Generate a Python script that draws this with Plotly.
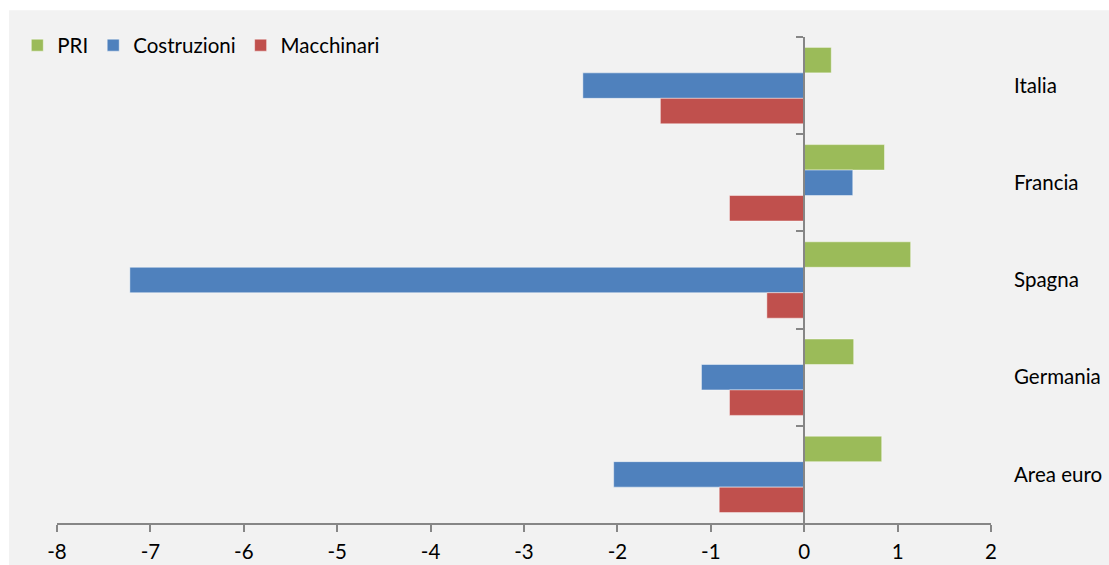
import plotly.graph_objects as go

# ===== DATA =====
paesi = ["Italia", "Francia", "Spagna", "Germania", "Area euro"]
pri = [0.29, 0.86, 1.14, 0.53, 0.83]
costruzioni = [-2.37, 0.52, -7.22, -1.10, -2.04]
macchinari = [-1.54, -0.80, -0.40, -0.80, -0.91]
x_ticks = [-8, -7, -6, -5, -4, -3, -2, -1, 0, 1, 2]
x_tick_labels = [str(v) for v in x_ticks]  # plain hyphen, like the original

serie = [
    ("PRI", pri, "#9BBB59"),
    ("Costruzioni", costruzioni, "#4F81BD"),
    ("Macchinari", macchinari, "#C0504D"),
]

FONT = "Lato, 'Open Sans', sans-serif"
AXIS_GREY = "#868686"

fig = go.Figure()

for nome, valori, colore in serie:
    fig.add_trace(go.Bar(
        name=nome,
        x=valori,
        y=paesi,
        orientation="h",
        marker=dict(color=colore, line=dict(color="rgba(255,255,255,0.45)", width=1)),
    ))

# invisible trace so the axis at x=0 (with category ticks) gets drawn
fig.add_trace(go.Scatter(
    x=[None] * len(paesi), y=paesi, yaxis="y2",
    mode="markers", showlegend=False, hoverinfo="skip",
))

fig.update_layout(
    width=1109,
    height=565,
    margin=dict(l=57, r=118, t=37, b=42, autoexpand=False),
    paper_bgcolor="white",
    plot_bgcolor="#F2F2F2",
    font=dict(family=FONT, size=20.5, color="#000000"),
    barmode="group",
    bargap=0.214,
    bargroupgap=0,
    showlegend=True,
    legend=dict(
        orientation="h",
        x=-0.0425, y=1.024,
        xanchor="left", yanchor="top",
        bgcolor="rgba(0,0,0,0)",
        font=dict(size=20.5),
        traceorder="normal",
    ),
    xaxis=dict(
        range=[-8, 2],
        tickvals=x_ticks,
        ticktext=x_tick_labels,
        ticks="outside",
        ticklen=7,
        tickcolor=AXIS_GREY,
        tickwidth=1.5,
        showline=True,
        linecolor=AXIS_GREY,
        linewidth=1.5,
        showgrid=False,
        zeroline=False,
        ticklabelstandoff=3,
    ),
    yaxis=dict(
        type="category",
        categoryorder="array",
        categoryarray=paesi,
        range=[len(paesi) - 0.5, -0.5],
        side="right",
        showgrid=False,
        zeroline=False,
        showline=False,
        ticks="",
        ticklabelstandoff=22,
    ),
    yaxis2=dict(
        type="category",
        categoryorder="array",
        categoryarray=paesi,
        range=[len(paesi) - 0.5, -0.5],
        overlaying="y",
        anchor="free",
        position=0.8,
        side="left",
        showline=True,
        linecolor=AXIS_GREY,
        linewidth=1.5,
        ticks="outside",
        tickson="boundaries",
        ticklen=7,
        tickcolor=AXIS_GREY,
        tickwidth=1.5,
        showticklabels=False,
        showgrid=False,
        zeroline=False,
    ),
    shapes=[dict(
        type="rect", xref="paper", yref="paper",
        x0=-0.0514, x1=1.2, y0=-0.2, y1=1.055,
        fillcolor="#F2F2F2", line=dict(width=0), layer="below",
    )],
)

# drop the browser's default body margin so the chart sits at the page origin
fig.write_html(
    "out.html",
    config={"displayModeBar": False},
    post_script="document.body.style.margin='0';",
)
